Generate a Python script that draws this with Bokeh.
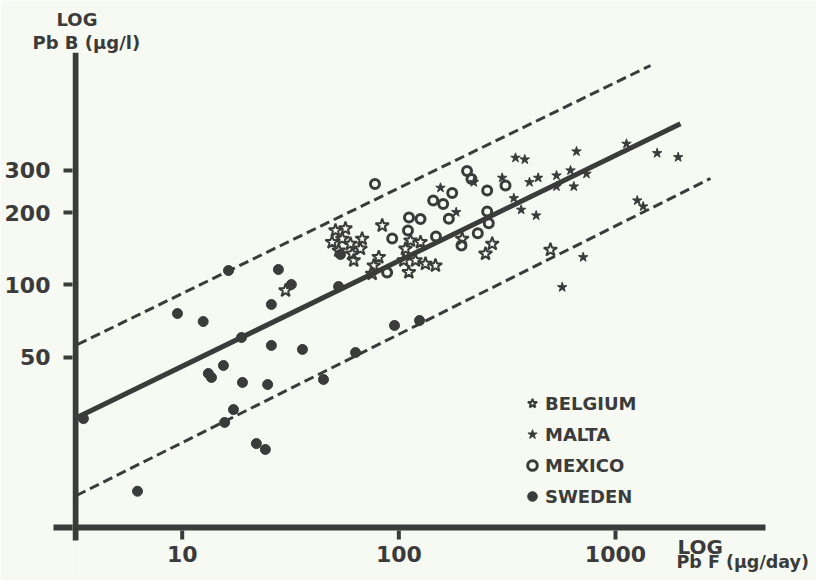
import math
from bokeh.plotting import figure
from bokeh.models import (Range1d, FixedTicker, PrintfTickFormatter, Title,
                          Legend, LegendItem)
from bokeh.core.properties import value
from bokeh.embed import file_html
from bokeh.resources import INLINE

# ---------------- data ----------------
x_ticks = [10, 100, 1000]
x_tick_labels = ["10", "100", "1000"]
y_ticks = [50, 100, 200, 300]

legend_labels = ["BELGIUM", "MALTA", "MEXICO", "SWEDEN"]

belgium_x = [51.0, 56.7, 49.2, 54.8, 59.8, 67.7, 52.8, 60.9, 66.5, 61.9, 83.8,
             80.8, 76.6, 75.3, 107.3, 113.2, 125.9, 105.4, 119.4, 111.2, 132.7,
             147.6, 196.1, 269.8, 251.2, 501.0, 30.0]
belgium_y = [168.4, 171.6, 150.5, 155.5, 148.2, 155.5, 138.9, 134.7, 141.3,
             126.3, 176.6, 130.3, 120.3, 111.1, 141.3, 152.9, 150.5, 126.3,
             126.3, 112.8, 122.3, 120.3, 155.5, 148.2, 134.7, 139.9, 94.7]

malta_x = [345.5, 381.3, 660.7, 1557, 1947, 1124, 299.9, 400.9, 439.7, 534.2,
           619.9, 734.9, 534.2, 642.0, 339.4, 367.0, 430.5, 1260, 1342, 709.4,
           567.5, 155.7, 184.0, 221.8]
malta_y = [338.2, 332.7, 359.3, 353.5, 340.1, 386.8, 279.1, 267.6, 279.1,
           285.3, 299.5, 290.1, 256.8, 256.8, 229.5, 205.4, 194.4, 224.5, 212.0,
           130.3, 97.7, 253.6, 200.7, 267.6]

mexico_x = [77.6, 93.2, 111.4, 125.9, 110.2, 88.3, 206.4, 216.4, 255.7, 310.7,
            176.3, 160.2, 144.1, 170.1, 255.7, 260.1, 231.4, 194.6, 148.4]
mexico_y = [263.0, 155.9, 190.7, 188.0, 168.4, 112.5, 298.0, 275.9, 247.2,
            259.3, 241.3, 217.1, 224.5, 188.4, 202.0, 180.6, 164.1, 145.8, 158.9]

sweden_x = [3.50, 6.22, 9.51, 12.5, 13.2, 13.65, 15.5, 15.7, 17.25, 16.36,
            18.78, 18.98, 22.0, 24.2, 24.8, 25.8, 25.8, 27.8, 31.9, 35.9, 44.9,
            52.7, 63.1, 53.8, 95.5, 124.6]
sweden_y = [27.7, 13.8, 75.9, 70.3, 42.7, 41.1, 46.1, 26.7, 30.2, 114.7, 60.3,
            39.2, 21.8, 20.6, 38.4, 55.9, 82.8, 115.8, 100.3, 53.8, 40.3, 98.4,
            52.2, 133.8, 67.7, 71.0]

fit_x = [3.322, 1995]
fit_y = [28.2, 468.6]
upper_x = [3.287, 1451]
upper_y = [56.4, 820]
lower_x = [3.252, 2745]
lower_y = [13.25, 277.3]

# ---------------- styling / layout ----------------
INK = "#3b3b3b"
BG = "#f7faf3"
FONT = "DejaVu Sans"
TICK_SIZE = "22px"

FL, FR, FT, FB = 72, 816, 52, 580          # frame edges (px)
X0, X1 = 3.1167, 8468.6                    # x range over the frame
Y0, Y1 = 5.861, 928.8                      # y range over the frame


def px2x(px):
    a, b = math.log10(X0), math.log10(X1)
    return 10 ** (a + (px - FL) / (FR - FL) * (b - a))


def py2y(py):
    a, b = math.log10(Y0), math.log10(Y1)
    return 10 ** (a + (FB - py) / (FB - FT) * (b - a))


p = figure(width=816, height=580, x_axis_type="log", y_axis_type="log",
           x_range=Range1d(X0, X1), y_range=Range1d(Y0, Y1),
           output_backend="svg", toolbar_location=None,
           min_border_left=FL, min_border_right=0,
           min_border_top=FT, min_border_bottom=0,
           background_fill_color=BG, border_fill_color=BG,
           outline_line_color=None)
p.grid.visible = False
p.xaxis.visible = False

# y axis: library axis (ticks + labels); its line is drawn below as a glyph
ya = p.yaxis[0]
ya.ticker = FixedTicker(ticks=y_ticks, minor_ticks=[py2y(527)])
ya.formatter = PrintfTickFormatter(format="%d")
ya.axis_line_color = None
ya.major_tick_line_color = INK
ya.major_tick_line_width = 4
ya.major_tick_in = 0
ya.major_tick_out = 9
ya.minor_tick_line_color = INK       # left overshoot of the x axis
ya.minor_tick_line_width = 6
ya.minor_tick_in = 0
ya.minor_tick_out = FL - 53
ya.major_label_standoff = 3
ya.major_label_text_font = FONT
ya.major_label_text_font_style = "bold"
ya.major_label_text_font_size = TICK_SIZE
ya.major_label_text_color = INK

# axis lines
x_axis_y = py2y(527)
y_axis_x = px2x(75)
p.segment(x0=[y_axis_x], y0=[Y1], x1=[y_axis_x], y1=[py2y(540)],
          line_color=INK, line_width=6)
p.segment(x0=[X0], y0=[x_axis_y], x1=[px2x(765)], y1=[x_axis_y],
          line_color=INK, line_width=6)
# x ticks and tick labels
p.segment(x0=x_ticks, y0=[py2y(530)] * 3, x1=x_ticks, y1=[py2y(539)] * 3,
          line_color=INK, line_width=4)
p.text(x=x_ticks, y=[py2y(545)] * 3, text=x_tick_labels,
       text_font=value(FONT), text_font_style="bold", text_font_size=TICK_SIZE,
       text_align="center", text_baseline="top", text_color=INK)
# x axis title
p.text(x=[px2x(677)], y=[py2y(546)], text=["LOG"], text_font=value(FONT),
       text_font_style="bold", text_font_size="20px", text_align="left",
       text_baseline="alphabetic", text_color=INK)
p.text(x=[px2x(676)], y=[py2y(561)], text=["Pb F (\u03bcg/day)"],
       text_font=value(FONT), text_font_style="bold", text_font_size="17.5px",
       text_align="left", text_baseline="alphabetic", text_color=INK)

# regression line and the two dashed bands
p.line(upper_x, upper_y, line_color=INK, line_width=3, line_dash="10 5")
p.line(lower_x, lower_y, line_color=INK, line_width=3, line_dash="10 5")
p.line(fit_x, fit_y, line_color=INK, line_width=5)

r_bel = p.scatter(belgium_x, belgium_y, marker="star", size=14,
                  line_color=INK, line_width=2, fill_alpha=0)
r_mal = p.scatter(malta_x, malta_y, marker="star", size=10,
                  line_color=INK, fill_color=INK, line_width=1)
r_mex = p.scatter(mexico_x, mexico_y, marker="circle", size=9,
                  line_color=INK, line_width=3, fill_alpha=0)
r_swe = p.scatter(sweden_x, sweden_y, marker="circle", size=10,
                  line_color=INK, fill_color=INK)

legend = Legend(items=[LegendItem(label=l, renderers=[r]) for l, r in
                       zip(legend_labels, [r_bel, r_mal, r_mex, r_swe])],
                location=(520 - FL, FB - 508), glyph_width=24, glyph_height=24,
                label_height=24, label_standoff=1, spacing=7, padding=0,
                margin=0, border_line_alpha=0, background_fill_alpha=0,
                label_text_font=FONT, label_text_font_style="bold",
                label_text_font_size="18px", label_text_color=INK)
p.add_layout(legend)

# y axis title (top left, above the axis)
for txt, left, size in [("Pb B (\u03bcg/l)", 32, "18px"), ("LOG", 56, "18px")]:
    p.add_layout(Title(text=txt, align="left", offset=left - FL, standoff=0,
                       text_font=FONT, text_font_style="bold",
                       text_font_size=size, text_color=INK), "above")

open("out.html", "w").write(file_html(p, INLINE))
